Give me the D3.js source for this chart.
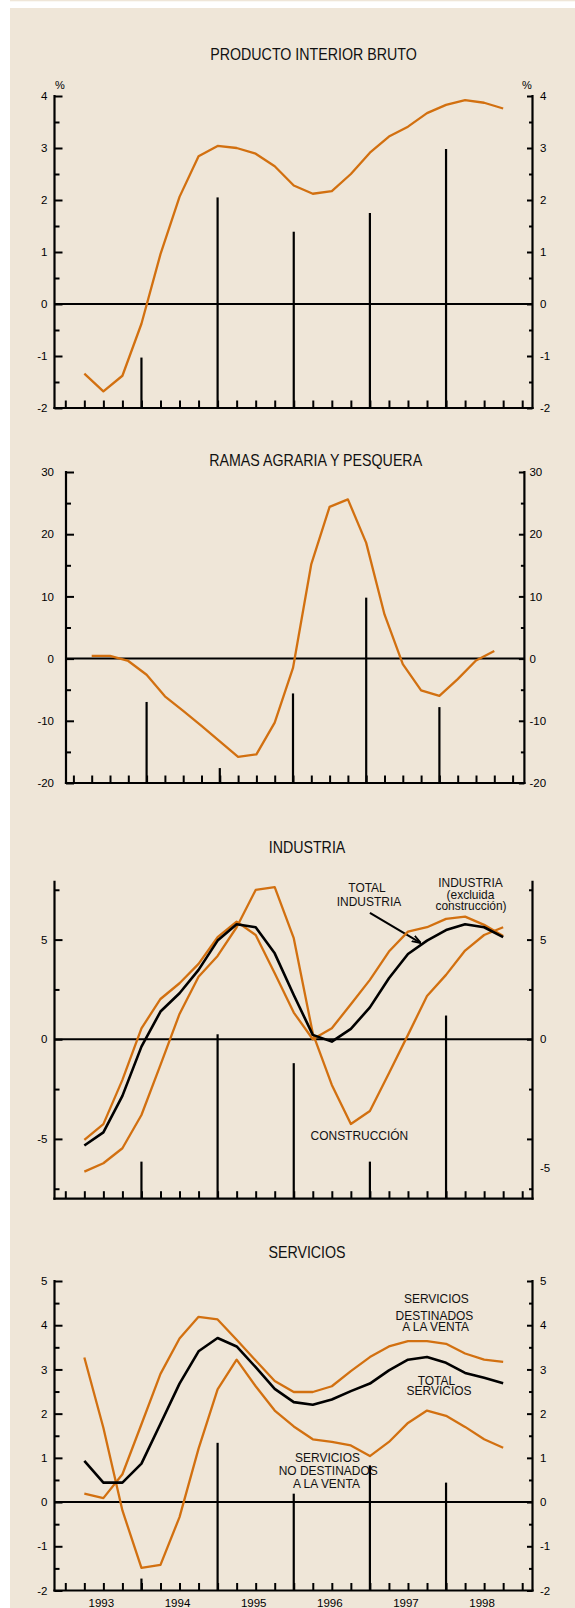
<!DOCTYPE html>
<html lang="es">
<head>
    <meta charset="UTF-8">
    <title>PIB y ramas de actividad</title>
    <script src="https://d3js.org/d3.v7.min.js"></script>
    <style>
        body {
            margin: 0;
            background: #fff;
            font-family: "Liberation Sans", Arial, Helvetica, sans-serif;
        }

        svg {
            display: block;
        }

        .tick line {
            stroke: #000;
            stroke-width: 2;
        }

        .tick text {
            font-family: "Liberation Sans", Arial, sans-serif;
            font-size: 11.5px;
            fill: #000;
        }

        .frame {
            stroke: #000;
            stroke-width: 2.2;
            stroke-linecap: square;
        }

        .title {
            font-size: 16px;
            fill: #111;
        }

        .note {
            font-size: 13px;
            fill: #111;
        }
    </style>
</head>
<body>
    <div id="chart"></div>
    <script>
        // trimestres (tasas interanuales), 1993-I .. 1998-III
        const quarters = [
            "1993-I", "1993-II", "1993-III", "1993-IV",
            "1994-I", "1994-II", "1994-III", "1994-IV",
            "1995-I", "1995-II", "1995-III", "1995-IV",
            "1996-I", "1996-II", "1996-III", "1996-IV",
            "1997-I", "1997-II", "1997-III", "1997-IV",
            "1998-I", "1998-II", "1998-III"
        ];

        // barras anuales, situadas al cierre de cada año
        const barDates = [1994, 1995, 1996, 1997, 1998];
        const yearLabels = ["1993", "1994", "1995", "1996", "1997", "1998"];

        const pibTrimestral = [-1.34, -1.68, -1.38, -0.38, 0.96, 2.06, 2.84, 3.04, 3.0, 2.89, 2.65, 2.28,
            2.12, 2.17, 2.5, 2.91, 3.22, 3.41, 3.67, 3.83, 3.92, 3.87, 3.76];
        const pibAnual = [-1.03, 2.05, 1.39, 1.75, 2.98];

        const agrariaTrimestral = [0.43, 0.43, -0.38, -2.6, -6.06, -8.4, -10.8, -13.3, -15.8, -15.4, -10.3, -1.5,
            15.2, 24.4, 25.6, 18.6, 7.1, -0.9, -5.1, -6.0, -3.3, -0.3, 1.23];
        const agrariaAnual = [-6.97, -17.6, -5.6, 9.8, -7.8];

        const industriaTotal = [-5.33, -4.67, -2.84, -0.37, 1.39, 2.31, 3.48, 4.95, 5.77, 5.62, 4.31, 2.22,
            0.22, -0.12, 0.52, 1.6, 3.06, 4.28, 4.95, 5.48, 5.77, 5.62, 5.12];
        const industriaSinConstruccion = [-5.05, -4.26, -2.04, 0.55, 2.02, 2.81, 3.78, 5.12, 5.9, 5.23, 3.31, 1.34,
            0.0, 0.55, 1.76, 2.98, 4.4, 5.4, 5.62, 6.04, 6.15, 5.74, 5.18];
        const construccion = [-6.64, -6.22, -5.47, -3.8, -1.29, 1.27, 3.14, 4.18, 5.62, 7.49, 7.63, 5.07,
            0.3, -2.29, -4.25, -3.6, -1.71, 0.22, 2.17, 3.23, 4.45, 5.23, 5.62];
        const industriaAnual = [-6.14, 0.25, -1.2, -6.14, 1.19];

        const serviciosTotal = [0.93, 0.44, 0.44, 0.87, 1.77, 2.68, 3.41, 3.71, 3.52, 3.05, 2.56, 2.26,
            2.2, 2.32, 2.51, 2.68, 2.98, 3.22, 3.28, 3.15, 2.92, 2.81, 2.69];
        const serviciosVenta = [0.19, 0.09, 0.63, 1.76, 2.9, 3.7, 4.19, 4.13, 3.67, 3.2, 2.74, 2.49,
            2.49, 2.62, 2.96, 3.28, 3.52, 3.64, 3.64, 3.58, 3.36, 3.22, 3.17];
        const serviciosNoVenta = [3.27, 1.68, -0.19, -1.49, -1.42, -0.34, 1.21, 2.55, 3.22, 2.62, 2.07, 1.71,
            1.42, 1.36, 1.28, 1.04, 1.36, 1.79, 2.07, 1.95, 1.7, 1.42, 1.23];
        const serviciosAnual = [-1.73, 1.34, 0.19, 0.83, 0.44];

        // etiquetas de los ejes
        const pibTicks = [-2, -1, 0, 1, 2, 3, 4];
        const agrariaTicks = [-20, -10, 0, 10, 20, 30];
        const industriaTicks = [-5, 0, 5];
        const industriaRightAt = [-6.45, 0, 5];      // la etiqueta -5 de la derecha está desplazada en el original
        const industriaRightText = ["-5", "0", "5"];
        const serviciosTicks = [-2, -1, 0, 1, 2, 3, 4, 5];

        const BEIGE = "#efe6d8";
        const ORANGE = "#d27010";
        const W = 575, H = 1608;

        const qPos = q => {
            const [yr, r] = q.split("-");
            return +yr + { I: 1, II: 2, III: 3, IV: 4 }[r] / 4;
        };
        const quarterTicks = d3.range(0, 25).map(i => 1993 + i / 4);

        const svg = d3.select("#chart")
            .append("svg")
            .attr("width", W)
            .attr("height", H);

        svg.append("rect").attr("width", W).attr("height", H).attr("fill", "#fff");
        svg.append("rect").attr("x", 10).attr("y", 8).attr("width", W - 10).attr("height", H - 8).attr("fill", BEIGE);
        svg.append("rect").attr("x", 10).attr("y", 0).attr("width", W - 10).attr("height", 1.3).attr("fill", BEIGE);

        svg.append("defs").append("marker")
            .attr("id", "arrow")
            .attr("viewBox", "0 0 10 10")
            .attr("refX", 9).attr("refY", 5)
            .attr("markerWidth", 9).attr("markerHeight", 9)
            .attr("markerUnits", "userSpaceOnUse")
            .attr("orient", "auto")
            .append("path")
            .attr("d", "M0,1.5 L10,5 L0,8.5")
            .attr("fill", "none")
            .attr("stroke", "#000")
            .attr("stroke-width", 2);

        const panels = [
            {
                title: "PRODUCTO INTERIOR BRUTO", titleX: 313.5, titleY: 60,
                left: 54.5, right: 532.5, x0: 65.3, x1: 522.2,
                yDomain: [-2, 4], yRange: [408, 96],
                ticks: pibTicks, minor: [-1.5, -0.5, 0.5, 1.5, 2.5, 3.5],
                leftPad: 7, rightPad: 7.5, percent: true,
                bars: pibAnual,
                series: [{ values: pibTrimestral, color: ORANGE, width: 2.3 }],
                notes: []
            },
            {
                title: "RAMAS AGRARIA Y PESQUERA", titleX: 315.7, titleY: 466,
                left: 66, right: 524.4, x0: 73.4, x1: 512.6,
                yDomain: [-20, 30], yRange: [783, 472],
                ticks: agrariaTicks, minor: [-15, -5, 5, 15, 25],
                leftPad: 12, rightPad: 5,
                bars: agrariaAnual,
                series: [{ values: agrariaTrimestral, color: ORANGE, width: 2.3 }],
                notes: []
            },
            {
                title: "INDUSTRIA", titleX: 307, titleY: 853.3,
                left: 54.5, right: 532.5, x0: 65.3, x1: 522.2,
                yDomain: [-8, 7.9], yRange: [1198.7, 881.8],
                ticks: industriaTicks, minor: [-7.5, -2.5, 2.5, 7.5],
                rightAt: industriaRightAt, rightText: industriaRightText,
                leftPad: 7, rightPad: 7.5,
                bars: industriaAnual,
                series: [
                    { values: construccion, color: ORANGE, width: 2.3 },
                    { values: industriaSinConstruccion, color: ORANGE, width: 2.3 },
                    { values: industriaTotal, color: "#000", width: 2.6 }
                ],
                notes: [
                    { t: "TOTAL", x: 1996.962, y: 7.38 },
                    { t: "INDUSTRIA", x: 1996.988, y: 6.69 },
                    { t: "INDUSTRIA", x: 1998.321, y: 7.64 },
                    { t: "(excluida", x: 1998.321, y: 7.06 },
                    { t: "construcción)", x: 1998.328, y: 6.49 },
                    { t: "CONSTRUCCIÓN", x: 1996.862, y: -5.07 }
                ],
                arrow: { x1: 1997.0, y1: 6.34, x2: 1997.66, y2: 4.85 }
            },
            {
                title: "SERVICIOS", titleX: 307, titleY: 1258.3,
                left: 54.5, right: 532.5, x0: 65.3, x1: 522.2,
                yDomain: [-2, 5], yRange: [1590.5, 1281],
                ticks: serviciosTicks, minor: [-1.5, -0.5, 0.5, 1.5, 2.5, 3.5, 4.5],
                leftPad: 7, rightPad: 7.5, years: true,
                bars: serviciosAnual,
                series: [
                    { values: serviciosVenta, color: ORANGE, width: 2.3 },
                    { values: serviciosNoVenta, color: ORANGE, width: 2.3 },
                    { values: serviciosTotal, color: "#000", width: 2.6 }
                ],
                notes: [
                    { t: "SERVICIOS", x: 1997.873, y: 4.5 },
                    { t: "DESTINADOS", x: 1997.848, y: 4.12 },
                    { t: "A LA VENTA", x: 1997.863, y: 3.87 },
                    { t: "TOTAL", x: 1997.873, y: 2.65 },
                    { t: "SERVICIOS", x: 1997.908, y: 2.43 },
                    { t: "SERVICIOS", x: 1996.443, y: 0.906 },
                    { t: "NO DESTINADOS", x: 1996.452, y: 0.613 },
                    { t: "A LA VENTA", x: 1996.429, y: 0.312 }
                ]
            }
        ];

        const clean = g => g.call(s => s.select(".domain").remove());

        panels.forEach(p => {
            const g = svg.append("g");
            const x = d3.scaleLinear().domain([1993, 1999]).range([p.x0, p.x1]);
            const y = d3.scaleLinear().domain(p.yDomain).range(p.yRange);
            const yTop = y(p.yDomain[1]);
            const yBot = y(p.yDomain[0]);

            g.append("text")
                .attr("class", "title")
                .attr("text-anchor", "middle")
                .attr("transform", `translate(${p.titleX},${p.titleY}) scale(0.89,1)`)
                .text(p.title);

            // ticks menores y mayores, hacia dentro
            g.append("g").attr("transform", `translate(${p.left},0)`)
                .call(d3.axisLeft(y).tickValues(p.minor).tickSize(-5).tickFormat("")).call(clean);
            g.append("g").attr("transform", `translate(${p.left},0)`)
                .call(d3.axisLeft(y).tickValues(p.ticks).tickSize(-8).tickPadding(p.leftPad).tickFormat(d => String(d)))
                .call(clean);

            g.append("g").attr("transform", `translate(${p.right},0)`)
                .call(d3.axisRight(y).tickValues(p.minor).tickSize(-3.5).tickFormat("")).call(clean);
            g.append("g").attr("transform", `translate(${p.right},0)`)
                .call(d3.axisRight(y).tickValues(p.ticks).tickSize(-5.5).tickFormat("")).call(clean);

            const rightAt = p.rightAt || p.ticks;
            const rightText = p.rightText || p.ticks.map(String);
            g.append("g").attr("transform", `translate(${p.right},0)`)
                .call(d3.axisRight(y).tickValues(rightAt).tickSize(0).tickPadding(p.rightPad)
                    .tickFormat((d, i) => rightText[i]))
                .call(clean);

            g.append("g").attr("transform", `translate(0,${yBot})`)
                .call(d3.axisBottom(x).tickValues(quarterTicks).tickSize(-7.5).tickFormat("")).call(clean);

            // marco
            g.append("line").attr("class", "frame")
                .attr("x1", p.left).attr("x2", p.left).attr("y1", yTop).attr("y2", yBot);
            g.append("line").attr("class", "frame")
                .attr("x1", p.right).attr("x2", p.right).attr("y1", yTop).attr("y2", yBot);
            g.append("line").attr("class", "frame")
                .attr("x1", p.left).attr("x2", p.right).attr("y1", yBot).attr("y2", yBot);
            g.append("line")
                .attr("x1", p.left).attr("x2", p.right)
                .attr("y1", y(0)).attr("y2", y(0))
                .attr("stroke", "#000").attr("stroke-width", 2);

            if (p.percent) {
                g.append("text").attr("x", p.left + 5.5).attr("y", yTop - 7)
                    .attr("text-anchor", "middle").attr("font-size", 11).text("%");
                g.append("text").attr("x", p.right - 5.5).attr("y", yTop - 7)
                    .attr("text-anchor", "middle").attr("font-size", 11).text("%");
            }

            p.notes.forEach(n => {
                g.append("text")
                    .attr("class", "note")
                    .attr("text-anchor", "middle")
                    .attr("transform", `translate(${x(n.x)},${y(n.y)}) scale(0.92,1)`)
                    .text(n.t);
            });

            if (p.arrow) {
                g.append("line")
                    .attr("x1", x(p.arrow.x1)).attr("y1", y(p.arrow.y1))
                    .attr("x2", x(p.arrow.x2)).attr("y2", y(p.arrow.y2))
                    .attr("stroke", "#000").attr("stroke-width", 2)
                    .attr("marker-end", "url(#arrow)");
            }

            // barras anuales, desde la base del gráfico
            g.selectAll(".bar")
                .data(p.bars)
                .join("line")
                .attr("class", "bar")
                .attr("x1", (d, i) => x(barDates[i]))
                .attr("x2", (d, i) => x(barDates[i]))
                .attr("y1", yBot)
                .attr("y2", d => y(d))
                .attr("stroke", "#000")
                .attr("stroke-width", 2.2);

            const line = d3.line()
                .x((d, i) => x(qPos(quarters[i])))
                .y(d => y(d));

            p.series.forEach(s => {
                g.append("path")
                    .datum(s.values)
                    .attr("d", line)
                    .attr("fill", "none")
                    .attr("stroke", s.color)
                    .attr("stroke-width", s.width)
                    .attr("stroke-linejoin", "round");
            });

            if (p.years) {
                g.selectAll(".year")
                    .data(yearLabels)
                    .join("text")
                    .attr("class", "year")
                    .attr("x", d => x(+d + 0.5) - 2)
                    .attr("y", yBot + 16.5)
                    .attr("text-anchor", "middle")
                    .attr("font-size", 11.5)
                    .text(d => d);
            }
        });
    </script>
</body>
</html>
